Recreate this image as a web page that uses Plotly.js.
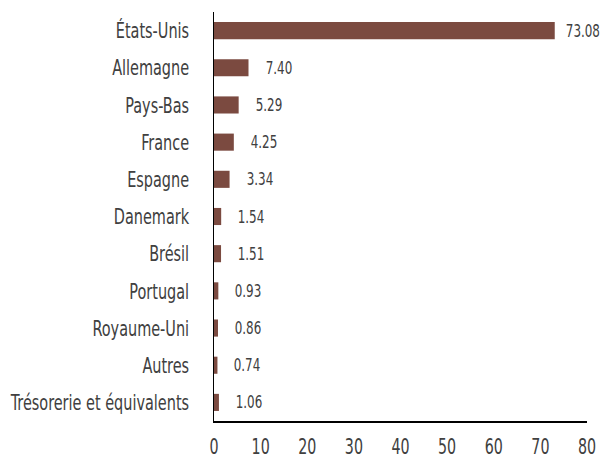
<!DOCTYPE html>
<html><head><meta charset="utf-8">
<script src="https://cdn.plot.ly/plotly-3.0.1.min.js"></script>
<style>body{margin:0;background:#fff}</style>
</head><body><div id="chart" style="width:606px;height:456px"></div>
<script>
const categories = ["États-Unis","Allemagne","Pays-Bas","France","Espagne","Danemark","Brésil","Portugal","Royaume-Uni","Autres","Trésorerie et équivalents"];
const values = [73.08,7.40,5.29,4.25,3.34,1.54,1.51,0.93,0.86,0.74,1.06];
const valueLabels = ["73.08","7.40","5.29","4.25","3.34","1.54","1.51","0.93","0.86","0.74","1.06"];
const xTicks = [0,10,20,30,40,50,60,70,80];

const FONT = '"DejaVu Sans Condensed", "DejaVu Sans", sans-serif';
const trace = {
  type: 'bar', orientation: 'h',
  x: values, y: categories,
  marker: {color: '#7b4a40'},
  hoverinfo: 'none'
};
const annotations = values.map((v, i) => ({
  x: v, y: categories[i], xref: 'x', yref: 'y',
  text: valueLabels[i], showarrow: false,
  xanchor: 'left', xshift: i === 0 ? 4 : 11,
  font: {family: FONT, size: 17, color: '#404040'}
}));
const layout = {
  width: 606, height: 456,
  margin: {l: 214, r: 19, t: 12, b: 35},
  paper_bgcolor: '#fff', plot_bgcolor: '#fff',
  bargap: 0.54,
  showlegend: false,
  font: {family: FONT, color: '#404040'},
  xaxis: {
    range: [0, 80], tickvals: xTicks, ticktext: xTicks.map(String),
    showgrid: false, zeroline: false, showline: true, linecolor: '#000', linewidth: 1.5,
    ticks: '', tickfont: {family: FONT, size: 22, color: '#404040'},
    ticklabelstandoff: 5
  },
  yaxis: {
    categoryorder: 'array', categoryarray: categories, autorange: 'reversed',
    showgrid: false, zeroline: false, showline: true, linecolor: '#000', linewidth: 1.5,
    ticks: '', tickfont: {family: FONT, size: 22, color: '#404040'},
    ticklabelstandoff: 19
  },
  annotations: annotations
};
function condense(sel, k) {
  document.querySelectorAll(sel).forEach(el => {
    const w = el.getComputedTextLength();
    if (w > 0) {
      el.setAttribute('textLength', (w * k).toFixed(2));
      el.setAttribute('lengthAdjust', 'spacingAndGlyphs');
    }
  });
}
Plotly.newPlot('chart', [trace], layout, {displayModeBar: false, staticPlot: true}).then(() => {
  condense('#chart .ytick text', 0.73);
  condense('#chart .xtick text', 0.72);
  condense('#chart .annotation-text', 0.78);
});
</script></body></html>
